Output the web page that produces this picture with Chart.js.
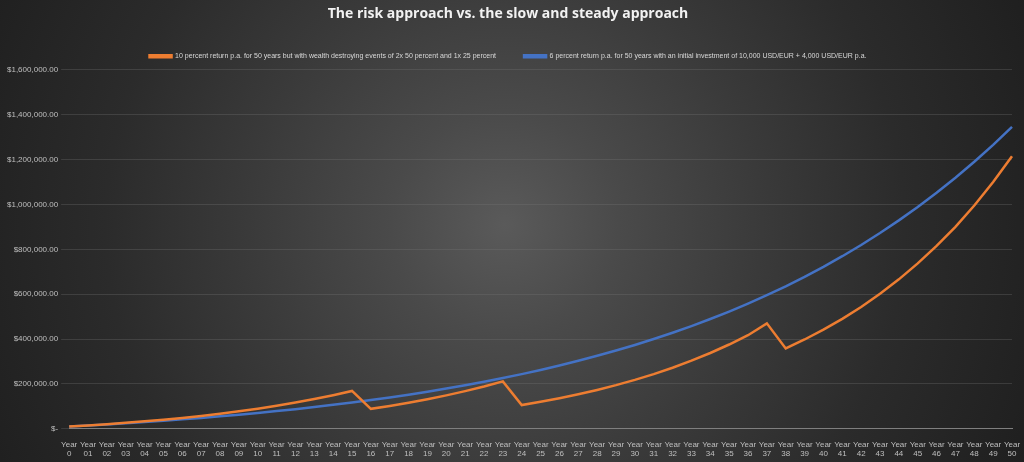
<!DOCTYPE html>
<html><head><meta charset="utf-8">
<script src="https://cdn.jsdelivr.net/npm/chart.js@4.4.0/dist/chart.umd.min.js"></script>
<style>
html,body{margin:0;padding:0;}
#wrap{width:1024px;height:462px;background:radial-gradient(circle at 505px 225px,#5a5a5a 0%,#4a4a4a 20%,#3a3a3a 45%,#2b2b2b 70%,#1f1f1f 100%);}
</style></head><body>
<div id="wrap"><canvas id="c" width="1024" height="462"></canvas></div>
<script>
const years = ["0","01","02","03","04","05","06","07","08","09","10","11","12","13","14","15","16","17","18","19","20","21","22","23","24","25","26","27","28","29","30","31","32","33","34","35","36","37","38","39","40","41","42","43","44","45","46","47","48","49","50"];
const riskLabel = "10 percent return p.a. for 50 years but with wealth destroying events of 2x 50 percent and 1x 25 percent";
const steadyLabel = "6 percent return p.a. for 50 years with an initial investment of 10,000 USD/EUR + 4,000 USD/EUR p.a.";
const riskValues = [10000,15000,20500,26550,33205,40526,48578,57436,67179,77897,89687,102656,116921,132614,149875,168862,89000,101900,116100,131700,148900,167800,188600,211400,105700,120300,136300,153900,173300,194600,218100,243900,272300,303500,337900,375700,417200,470000,358000,398000,442000,490000,543000,602000,666000,737000,815000,900000,995000,1100000,1215000];
const steadyValues = [10000,14600,19476,24645,30124,35931,42087,48612,55529,62860,70632,78870,87602,96858,106670,117070,128094,139780,152167,165297,179215,193968,209606,226182,243753,262378,282121,303048,325231,348745,373670,400090,428095,457781,489248,522603,557959,595437,635163,677273,721909,769224,819377,872540,928892,988626,1051944,1119061,1190205,1265617,1345554];
const tickFont = {family:"Liberation Sans", size:8};
new Chart(document.getElementById('c'), {
  type:'line',
  data:{
    labels: years.map(y=>["Year", y]),
    datasets:[
      {label:riskLabel,data:riskValues,borderColor:'#ed7d31',backgroundColor:'#ed7d31',borderWidth:2.5,pointRadius:0,tension:0},
      {label:steadyLabel,data:steadyValues,borderColor:'#4472c4',backgroundColor:'#4472c4',borderWidth:2.5,pointRadius:0,tension:0}
    ]
  },
  options:{
    responsive:false,animation:false,
    layout:{padding:{left:4,right:12,top:4,bottom:0}},
    plugins:{
      title:{display:true,text:"The risk approach vs. the slow and steady approach",color:'#f2f2f2',font:{family:"Open Sans",size:14,weight:'bold'},padding:{top:2,bottom:2}},
      legend:{labels:{color:'#d9d9d9',font:{family:"Liberation Sans Narrow, Liberation Sans",size:7},boxWidth:22,boxHeight:2,padding:28}},
      tooltip:{enabled:false}
    },
    scales:{
      x:{ticks:{color:'#bfbfbf',font:tickFont,maxRotation:0,autoSkip:false},grid:{display:false},border:{color:'#7f7f7f'}},
      y:{min:0,max:1600000,ticks:{stepSize:200000,color:'#bfbfbf',font:tickFont,
          callback:v=> v===0 ? "$-" : "$"+v.toLocaleString('en-US',{minimumFractionDigits:2})},
         grid:{color:'rgba(120,120,120,0.3)'},border:{display:false}}
    }
  }
});
</script></body></html>
